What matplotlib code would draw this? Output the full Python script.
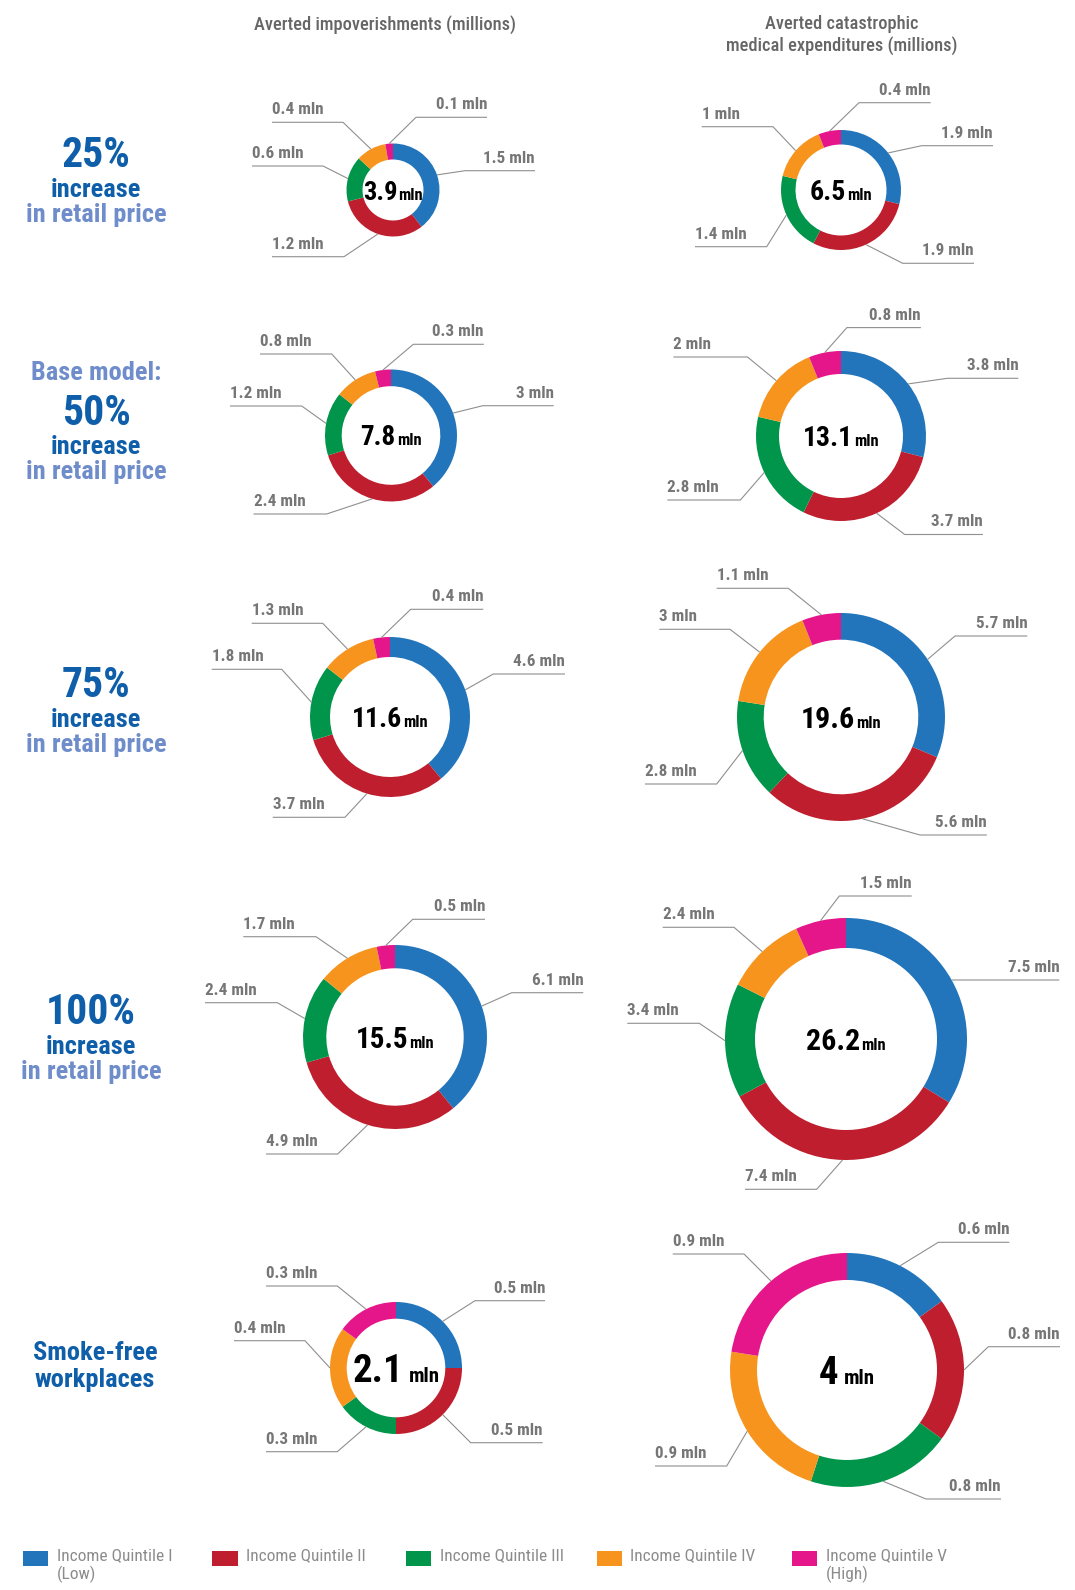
import matplotlib
matplotlib.use('Agg')
import numpy as np
import matplotlib.pyplot as plt
from matplotlib.patches import Rectangle

# --- data -------------------------------------------------------------
quintiles = ['Income Quintile I\n(Low)', 'Income Quintile II', 'Income Quintile III',
             'Income Quintile IV', 'Income Quintile V\n(High)']
colors = ['#2275BB', '#BE1E2D', '#00954A', '#F7941E', '#E5168A']

col_titles = ['Averted impoverishments (millions)',
              'Averted catastrophic\nmedical expenditures (millions)']

impov_totals = ['3.9', '7.8', '11.6', '15.5', '2.1']
impov_values = [
    [1.5, 1.2, 0.6, 0.4, 0.1],
    [3.0, 2.4, 1.2, 0.8, 0.3],
    [4.6, 3.7, 1.8, 1.3, 0.4],
    [6.1, 4.9, 2.4, 1.7, 0.5],
    [0.5, 0.5, 0.3, 0.4, 0.3],
]
cme_totals = ['6.5', '13.1', '19.6', '26.2', '4']
cme_values = [
    [1.9, 1.9, 1.4, 1.0, 0.4],
    [3.8, 3.7, 2.8, 2.0, 0.8],
    [5.7, 5.6, 2.8, 3.0, 1.1],
    [7.5, 7.4, 3.4, 2.4, 1.5],
    [0.6, 0.8, 0.8, 0.9, 0.9],
]

plt.rcParams['font.family'] = ['Roboto Condensed', 'DejaVu Sans']

W, H = 1075, 1590
fig = plt.figure(figsize=(W / 100, H / 100), dpi=100)
ax = fig.add_axes([0, 0, 1, 1])
ax.axis('off')

def Y(y):  # top-based pixel -> data y
    return H - y

# --- layout (pixel positions, top-based) --------------------------------
# per donut: centre, outer radius, ring width
impov_geo = [((393, 190), 46.5, 16), ((391, 435.5), 66, 16.7), ((390, 717), 80, 20),
             ((395, 1037), 92, 23.3), ((396, 1368), 66, 16.7)]
cme_geo = [((841, 190), 60, 14.5), ((841, 436), 85, 23), ((841, 717), 104, 26.7),
           ((846, 1039), 121, 30), ((847, 1370), 117, 27)]
# per label: (line y, outer x, elbow x)
impov_lab = [
    [(170.7, 535, 465), (256.7, 272, 344), (166, 252, 323), (122.3, 272, 343), (117.3, 487, 416)],
    [(405.7, 553.7, 482.8), (514, 253.5, 326.6), (406, 230, 301.7), (354, 260, 331.7), (344.3, 483.8, 413.3)],
    [(674, 565, 493.3), (817.3, 272.7, 345), (669.3, 211.7, 281.7), (623.3, 251.7, 322.7), (609.3, 483.3, 410.7)],
    [(992.7, 583.3, 511.7), (1154, 266, 337.7), (1002.7, 205, 277.3), (936.7, 243.3, 316), (919.3, 485, 412.7)],
    [(1300.7, 545, 475), (1442.7, 542.7, 470.7), (1451.7, 266, 337.3), (1340.7, 234, 305), (1286, 266, 337.3)],
]
cme_lab = [
    [(145.7, 993, 921.7), (263.3, 974, 902.7), (246.7, 695, 766.7), (126.7, 701.7, 773), (102.7, 930.7, 859)],
    [(378.3, 1018.3, 947.3), (534.5, 982.8, 904.7), (500, 667.3, 740.4), (357, 673.4, 747.5), (327.6, 920.9, 846.9)],
    [(636, 1027.3, 955), (835, 986.8, 920), (784, 645, 716.7), (629.3, 659.3, 730), (588.3, 716.7, 788.3)],
    [(980, 1059.3, 986.7), (1189.3, 745, 816.7), (1023.3, 627.3, 699.3), (927.3, 662.7, 734), (896, 911.7, 839.3)],
    [(1242.3, 1009.3, 938.3), (1346.7, 1060, 988.3), (1499, 1001, 926), (1466, 655, 726.7), (1254, 672.7, 744)],
]
impov_font = [(19, 12), (19.5, 12), (20, 12), (21, 12), (28, 15)]
cme_font = [(20, 12), (20, 12), (21.5, 12), (21.5, 12), (28, 15)]

LINE = '#8F8F8F'
LABEL = '#767676'
renderer = fig.canvas.get_renderer()


def donut(values, total, geo, labs, fonts, space=False):
    (cx, cy), R, w = geo
    wedges, _ = ax.pie(values, colors=colors, startangle=90, counterclock=False,
                       radius=R, center=(cx, Y(cy)),
                       wedgeprops=dict(width=w, linewidth=0))
    for wd, (ly, xo, xe), v in zip(wedges, labs, values):
        a = np.deg2rad((wd.theta1 + wd.theta2) / 2)
        px, py = cx + R * np.cos(a), Y(cy) + R * np.sin(a)
        ax.plot([px, xe, xo], [py, Y(ly), Y(ly)], color=LINE, lw=0.8,
                solid_capstyle='butt')
        ha = 'left' if xo < xe else 'right'
        ax.text(xo, Y(ly) + 8, f'{v:g} mln', ha=ha, va='baseline',
                fontsize=12.3, fontweight='bold', color=LABEL)
    big, small = fonts
    t1 = ax.text(0, 0, total, fontsize=big, fontweight='bold', color='black', va='baseline')
    t2 = ax.text(0, 0, 'mln', fontsize=small, fontweight='bold', color='black', va='baseline')
    w1 = t1.get_window_extent(renderer).width
    w2 = t2.get_window_extent(renderer).width
    gap = 6 if space else 1
    x0 = cx - (w1 + gap + w2) / 2
    yb = Y(cy) - 0.36 * big * 100 / 72
    t1.set_position((x0, yb))
    t2.set_position((x0 + w1 + gap, yb))


for i in range(5):
    donut(impov_values[i], impov_totals[i], impov_geo[i], impov_lab[i], impov_font[i], space=(i == 4))
    donut(cme_values[i], cme_totals[i], cme_geo[i], cme_lab[i], cme_font[i], space=(i == 4))

# --- column titles ------------------------------------------------------
HEAD = '#666666'
ax.text(385, Y(25), col_titles[0], ha='center', va='center', fontsize=13.2, color=HEAD,
        fontweight='medium')
ax.text(842, Y(35), col_titles[1], ha='center', va='center', fontsize=13.2, color=HEAD,
        fontweight='medium', linespacing=1.15)

# --- row labels ---------------------------------------------------------
DARK = '#0F5EAA'
LIGHT = '#6F8DCA'
rows = [
    (96, [('25%', 167, 30, DARK), ('increase', 197, 19, DARK), ('in retail price', 222, 19, LIGHT)]),
    (96, [('Base model:', 380, 19, LIGHT), ('50%', 425, 30, DARK), ('increase', 454, 19, DARK),
          ('in retail price', 479, 19, LIGHT)]),
    (96, [('75%', 697, 30, DARK), ('increase', 727, 19, DARK), ('in retail price', 752, 19, LIGHT)]),
    (91, [('100%', 1024, 30, DARK), ('increase', 1054, 19, DARK), ('in retail price', 1079, 19, LIGHT)]),
    (95, [('Smoke-free', 1360, 19, DARK), ('workplaces', 1387, 19, DARK)]),
]
for x, items in rows:
    for s, yb, fs, c in items:
        ax.text(x, Y(yb), s, ha='center', va='baseline', fontsize=fs, fontweight='bold', color=c)

# --- legend -------------------------------------------------------------
leg_x = [22.8, 212.4, 405.5, 596.5, 791.7]
for x, c, lab in zip(leg_x, colors, quintiles):
    ax.add_patch(Rectangle((x, Y(1566)), 25.5, 14.7, color=c, lw=0))
    ax.text(x + 34, Y(1548), lab, ha='left', va='top', fontsize=12.5, color='#8C8C8C',
            linespacing=1.22)

ax.set_xlim(0, W)
ax.set_ylim(0, H)
ax.set_aspect('auto')
fig.savefig('out.png', dpi=100)
